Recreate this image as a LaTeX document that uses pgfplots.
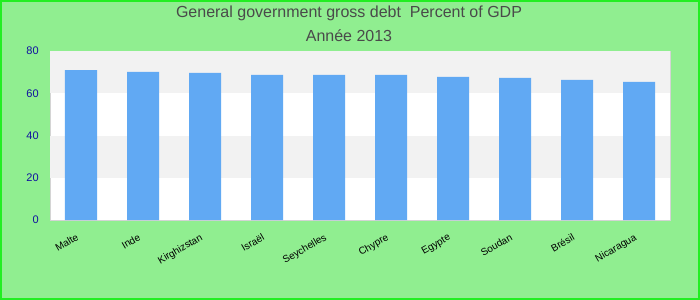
\documentclass[border=0pt]{standalone}
\usepackage{pgfplots}
\pgfplotsset{compat=1.18}
\usepackage{fontspec}
\setmainfont{Liberation Sans}
\definecolor{bgg}{HTML}{90EE90}
\definecolor{brd}{HTML}{22EE22}
\definecolor{barc}{HTML}{61A9F3}
\definecolor{band}{HTML}{F2F2F2}
\definecolor{framec}{HTML}{D4D4D4}
\definecolor{ttl}{HTML}{4A4A4A}
\definecolor{tickc}{HTML}{1010A0}
\begin{document}
\begin{tikzpicture}[x=0.75pt,y=0.75pt]
\useasboundingbox (0,0) rectangle (700,300);
\fill[bgg] (0,0) rectangle (700,300);
\draw[brd,line width=1.5pt] (0.75,0.75) rectangle (699.25,299.25);
\node[ttl,font=\fontsize{12}{14}\selectfont] at (349,287) {General government gross debt\ \ Percent of GDP};
\node[ttl,font=\fontsize{12}{14}\selectfont] at (349,264) {Année 2013};
\begin{axis}[
  at={(37.5pt,60pt)}, anchor=south west,
  scale only axis, width=465pt, height=126.75pt,
  xmin=-0.5, xmax=9.5, ymin=0, ymax=80,
  axis background/.style={fill=white},
  axis line style={draw=framec},
  ytick={0,20,40,60,80},
  yticklabel style={text=tickc,font=\fontsize{8.25}{10}\selectfont,xshift=-5pt},
  /pgf/number format/assume math mode=true,
  major tick length=0pt,
  xtick=data,
  xticklabels={Malte,Inde,Kirghizstan,Israël,Seychelles,Chypre,Egypte,Soudan,Brésil,Nicaragua},
  xticklabel style={rotate=30,anchor=north east,font=\fontsize{7.5}{9}\selectfont,text=black,yshift=-3pt,xshift=-5pt},
  ybar, bar width=24pt,
  ytick style={draw=none}, xtick style={draw=none},
  clip=false,
]
\fill[band] (axis cs:-0.5,20) rectangle (axis cs:9.5,40);
\fill[band] (axis cs:-0.5,60) rectangle (axis cs:9.5,80);
\addplot[fill=barc,draw=none] coordinates {
(0,71.0) (1,70.1) (2,69.6) (3,68.7) (4,68.7) (5,68.7) (6,67.8) (7,67.3) (8,66.3) (9,65.4)};
\end{axis}
\end{tikzpicture}
\end{document}
